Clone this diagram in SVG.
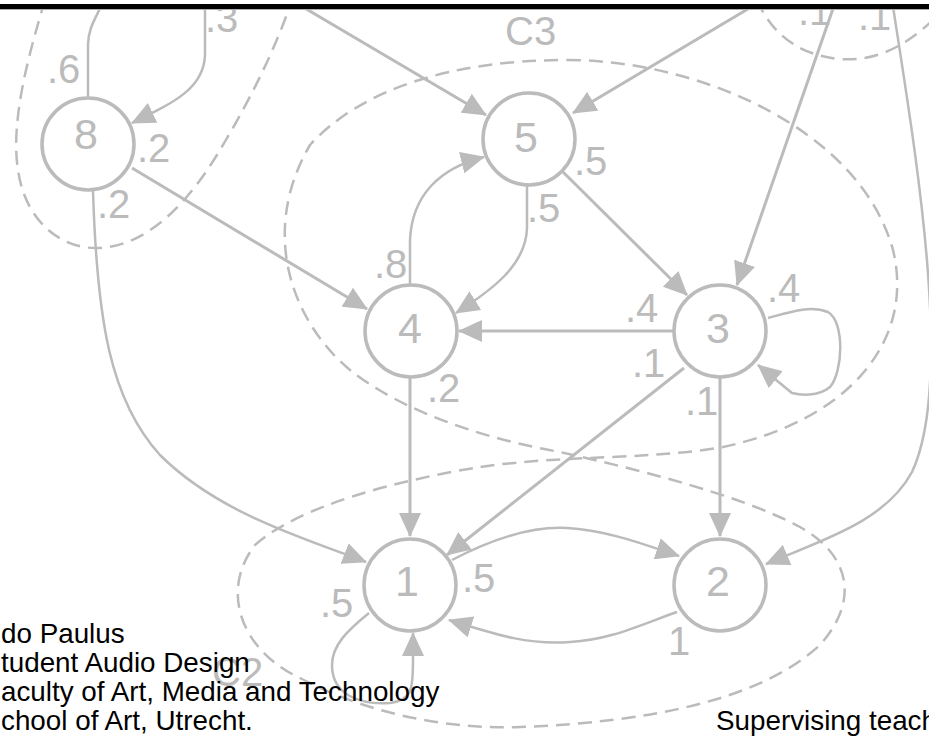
<svg xmlns="http://www.w3.org/2000/svg" width="929" height="740" viewBox="0 0 929 740">
  <defs>
    <style>
      .cluster { fill: none; stroke: #bbbbbb; stroke-width: 2.5; stroke-dasharray: 14 8; }
      .edge { fill: none; stroke: #bbbbbb; stroke-width: 3; }
      .curve { fill: none; stroke: #bbbbbb; stroke-width: 2.5; }
      .arrow { marker-end: url(#ah); }
      .node circle { fill: #ffffff; stroke: #bbbbbb; stroke-width: 3.5; }
      .gray { font-family: "Liberation Sans", Arial, sans-serif; font-size: 40px; fill: #bbbbbb; }
      .num { text-anchor: middle; font-size: 43px; }
      .credit { font-family: "Liberation Sans", Arial, sans-serif; font-size: 27.8px; fill: #000000; }
    </style>
    <marker id="ah" markerUnits="userSpaceOnUse" markerWidth="24" markerHeight="22" refX="23" refY="11" orient="auto" viewBox="0 0 24 22">
      <path d="M0,0 L24,11 L0,22 z" fill="#bbbbbb"/>
    </marker>
  </defs>

  <rect x="0" y="0" width="929" height="740" fill="#ffffff"/>

  <!-- dashed cluster outlines -->
  <g id="clusters">
    <path class="cluster" d="M45,0 C30,50 10,120 18,170 C25,220 60,250 100,248 C150,245 190,200 220,150 C250,100 275,50 292,0"/>
    <path class="cluster" d="M757,0 C770,30 795,55 840,59 C870,61 900,52 935,18"/>
    <path class="cluster" d="M567,60 C700,60 860,130 893,250 C915,340 850,420 723,447 C650,460 560,455 480,467 C400,480 300,505 255,545 C220,590 240,650 300,678 C360,710 440,730 520,727 C650,722 760,700 820,645 C860,600 850,555 800,527 C740,495 640,470 560,452 C480,438 400,410 350,370 C290,320 260,230 310,145 C360,90 450,60 567,60 Z"/>
    <text class="gray" x="505" y="45">C3</text>
    <text class="gray" x="212" y="686">C2</text>
  </g>

  <!-- transitions -->
  <g id="connectors">
    <path class="edge arrow" d="M291,0 L486,115"/>
    <path class="edge arrow" d="M763,0 L573,113"/>
    <path class="edge arrow" d="M836,0 L737,285"/>
    <path class="curve arrow" d="M892,0 C915,150 955,380 912,472 C885,522 822,540 766,564"/>
    <path class="curve" d="M88,98 L88,45 C88,28 96,18 104,0"/>
    <path class="curve arrow" d="M205,0 L205,55 C204,88 175,102 132,123"/>
    <path class="edge arrow" d="M132,168 L367,309"/>
    <path class="curve arrow" d="M93,191 C97,320 110,400 160,455 C220,515 310,540 366,562"/>
    <path class="curve arrow" d="M527,186 L527,228 C526,265 492,290 456,313"/>
    <path class="curve arrow" d="M410,284 L410,240 C412,195 440,168 484,157"/>
    <path class="edge arrow" d="M563,172 L687,295"/>
    <path class="edge arrow" d="M673,331 L459,331"/>
    <path class="curve arrow" d="M768,318 C790,312 810,305 828,312 C845,322 843,372 830,387 C818,397 800,395 792,393 L758,365"/>
    <path class="edge arrow" d="M684,368 L447,555"/>
    <path class="edge arrow" d="M720,378 L720,536"/>
    <path class="edge arrow" d="M410,378 L410,536"/>
    <path class="curve arrow" d="M452,560 C490,540 530,526 567,528 C605,530 640,543 679,556"/>
    <path class="curve arrow" d="M677,612 C640,625 610,640 570,642 C530,645 500,636 449,620"/>
    <path class="curve arrow" d="M369,613 C348,630 332,645 332,665 C332,695 360,705 390,703 C412,700 413,690 413,660 L413,633"/>
  </g>

  <!-- transition probabilities -->
  <g id="edge-labels" class="gray">
    <text x="47" y="83">.6</text>
    <text x="205" y="32">.3</text>
    <text x="137" y="162">.2</text>
    <text x="97" y="218">.2</text>
    <text x="374" y="278">.8</text>
    <text x="527" y="222">.5</text>
    <text x="574" y="175">.5</text>
    <text x="625" y="322">.4</text>
    <text x="767" y="302">.4</text>
    <text x="632" y="377">.1</text>
    <text x="685" y="415">.1</text>
    <text x="427" y="402">.2</text>
    <text x="462" y="592">.5</text>
    <text x="320" y="617">.5</text>
    <text x="668" y="655">1</text>
    <text x="798" y="25">.1</text>
    <text x="858" y="30">.1</text>
  </g>

  <!-- states -->
  <g id="node-8" class="node"><circle cx="88" cy="144" r="46"/><text class="gray num" x="86" y="149">8</text></g>
  <g id="node-5" class="node"><circle cx="529" cy="139" r="46"/><text class="gray num" x="526" y="152">5</text></g>
  <g id="node-4" class="node"><circle cx="411" cy="331" r="46"/><text class="gray num" x="410" y="343">4</text></g>
  <g id="node-3" class="node"><circle cx="720" cy="331" r="46"/><text class="gray num" x="718" y="343">3</text></g>
  <g id="node-1" class="node"><circle cx="410" cy="585" r="46"/><text class="gray num" x="407" y="596">1</text></g>
  <g id="node-2" class="node"><circle cx="720" cy="585" r="46"/><text class="gray num" x="718" y="596">2</text></g>

  <!-- credits -->
  <g id="credits" class="credit">
    <text x="1" y="643">do Paulus</text>
    <text x="1" y="672">tudent Audio Design</text>
    <text x="1" y="701">aculty of Art, Media and Technology</text>
    <text x="1" y="730">chool of Art, Utrecht.</text>
    <text x="716" y="730">Supervising teach</text>
  </g>

  <!-- top border -->
  <rect x="0" y="0" width="929" height="4" fill="#ffffff"/>
  <rect x="0" y="4" width="929" height="5" fill="#000000"/>
  <line x1="0" y1="9.5" x2="929" y2="9.5" stroke="#aaaaaa" stroke-width="1"/>
</svg>
